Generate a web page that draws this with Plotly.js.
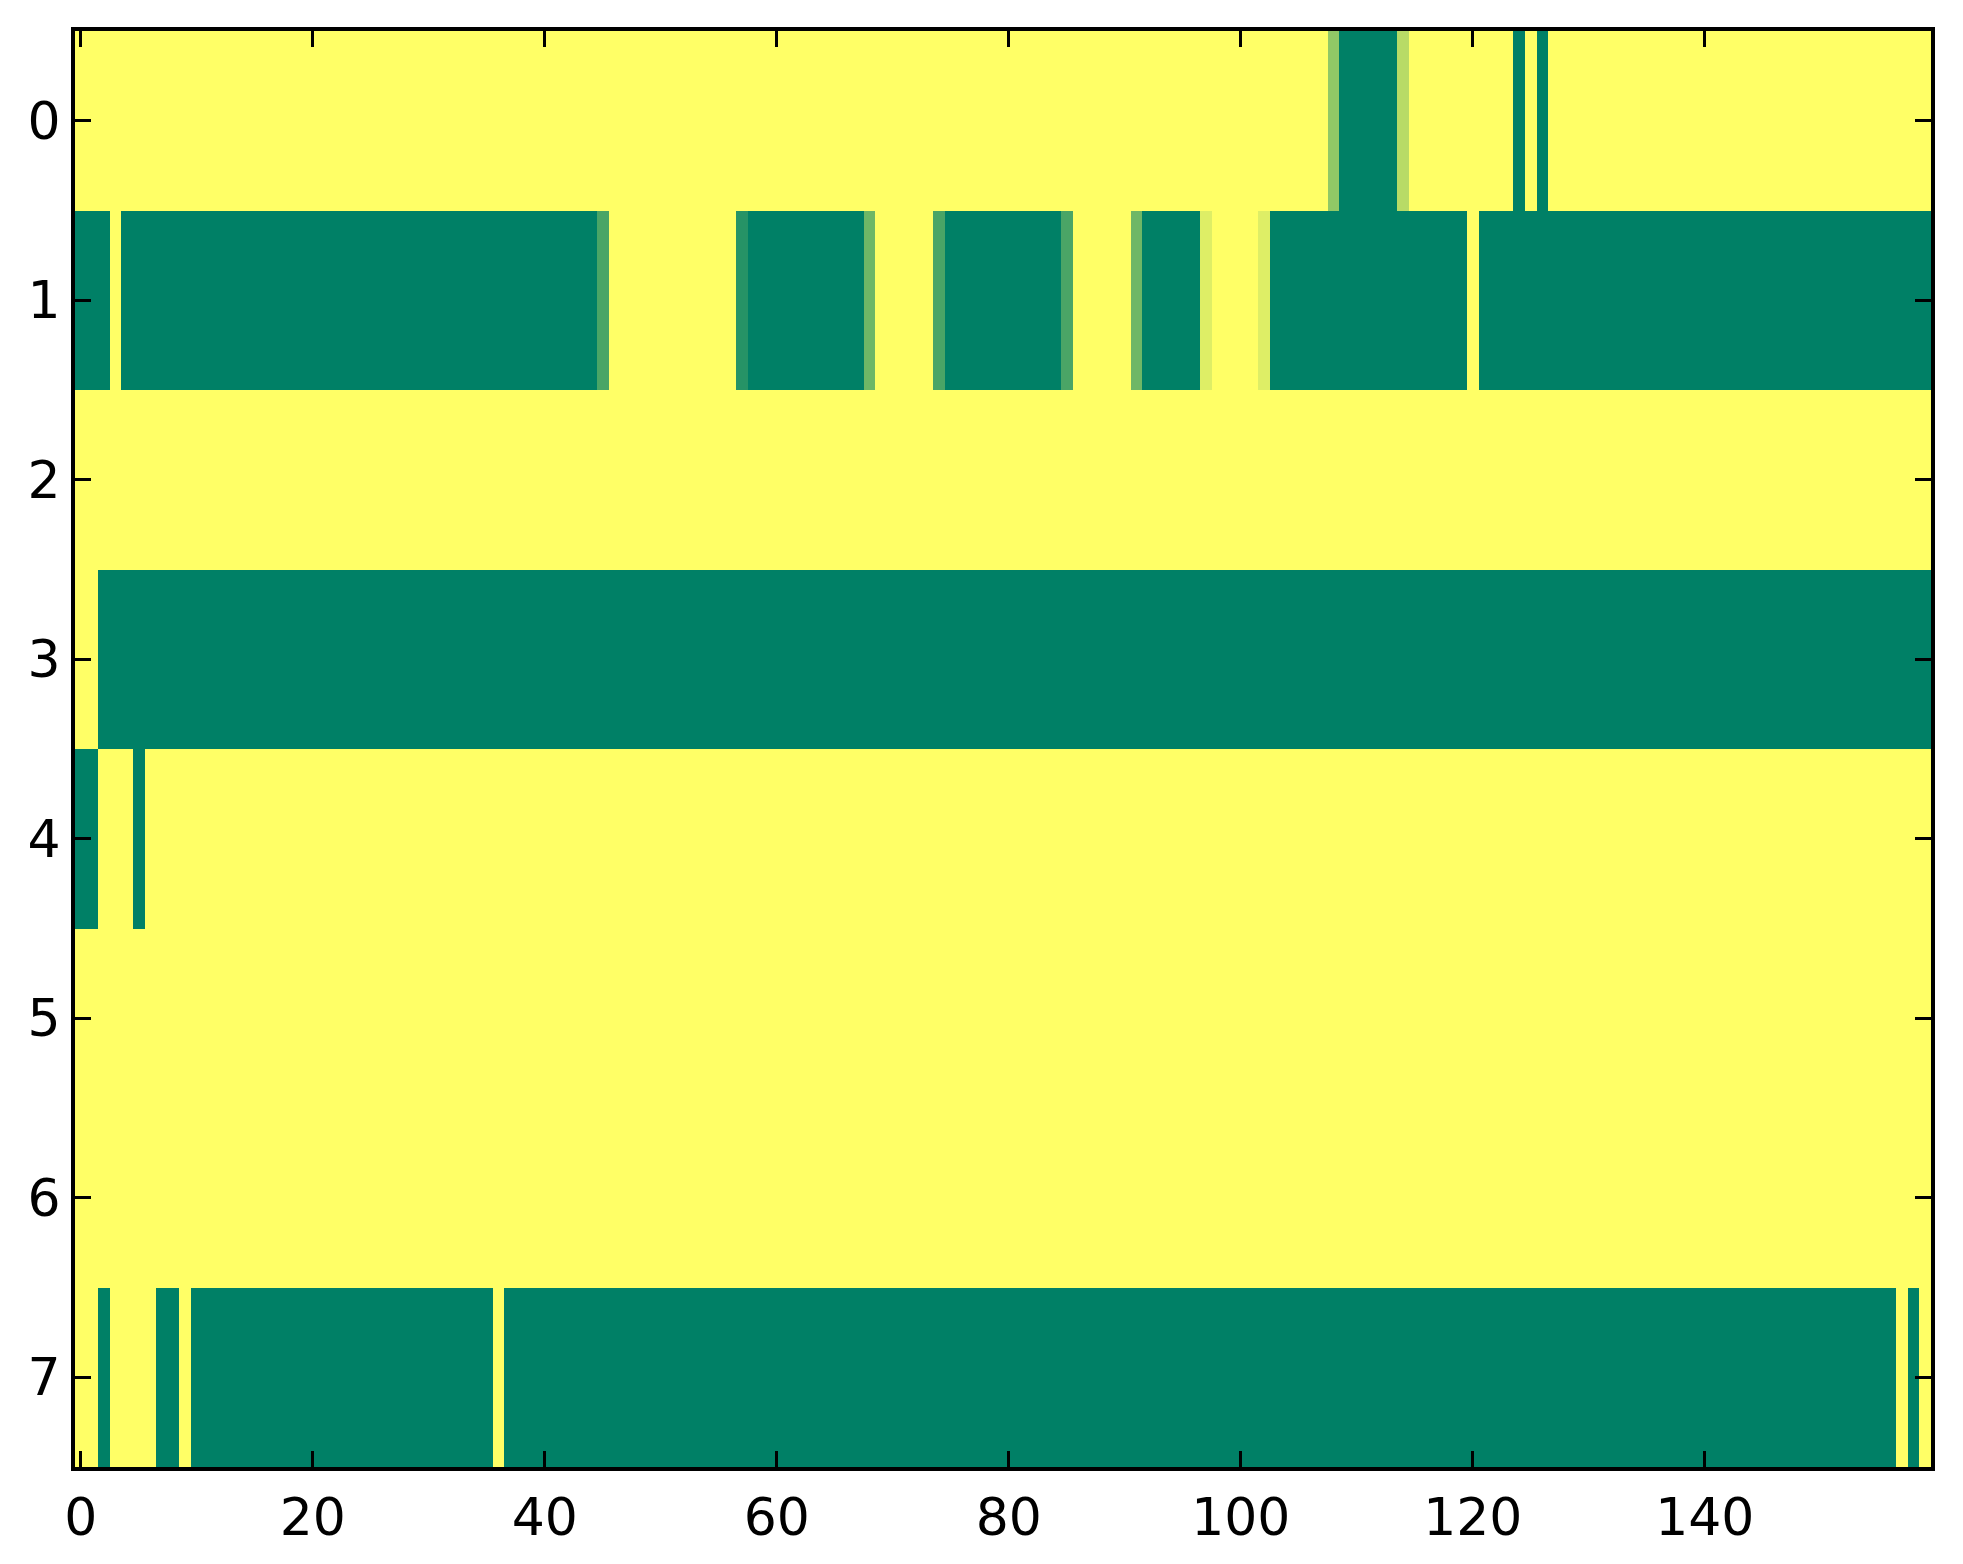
<!DOCTYPE html>
<html>
<head>
<meta charset="utf-8">
<script src="https://cdn.plot.ly/plotly-3.0.1.min.js"></script>
<style>
html,body{margin:0;padding:0;background:#fff;}
#chart{width:1963px;height:1564px;}
</style>
</head>
<body>
<div id="chart"></div>
<script>
// Row indices (y) and column indices (x)
const rowLabels = [0, 1, 2, 3, 4, 5, 6, 7];
const xTicks = [0, 20, 40, 60, 80, 100, 120, 140];
const yTicks = [0, 1, 2, 3, 4, 5, 6, 7];

// Cell values (0 = green, 1 = yellow), 160 columns per row
const row0 = [
  1,1,1,1,1,1,1,1,1,1,1,1,1,1,1,1,1,1,1,1,
  1,1,1,1,1,1,1,1,1,1,1,1,1,1,1,1,1,1,1,1,
  1,1,1,1,1,1,1,1,1,1,1,1,1,1,1,1,1,1,1,1,
  1,1,1,1,1,1,1,1,1,1,1,1,1,1,1,1,1,1,1,1,
  1,1,1,1,1,1,1,1,1,1,1,1,1,1,1,1,1,1,1,1,
  1,1,1,1,1,1,1,1,0.57,0,0,0,0,0,0.72,1,1,1,1,1,
  1,1,1,1,0,1,0,1,1,1,1,1,1,1,1,1,1,1,1,1,
  1,1,1,1,1,1,1,1,1,1,1,1,1,1,1,1,1,1,1,1
];
const row1 = [
  0,0,0,1,0,0,0,0,0,0,0,0,0,0,0,0,0,0,0,0,
  0,0,0,0,0,0,0,0,0,0,0,0,0,0,0,0,0,0,0,0,
  0,0,0,0,0,0.29,1,1,1,1,1,1,1,1,1,1,1,0.15,0,0,
  0,0,0,0,0,0,0,0,0.43,1,1,1,1,1,0.29,0,0,0,0,0,
  0,0,0,0,0,0.29,1,1,1,1,1,0.43,0,0,0,0,0,0.87,1,1,
  1,1,0.87,0,0,0,0,0,0,0,0,0,0,0,0,0,0,0,0,0,
  1,0,0,0,0,0,0,0,0,0,0,0,0,0,0,0,0,0,0,0,
  0,0,0,0,0,0,0,0,0,0,0,0,0,0,0,0,0,0,0,0
];
const row2 = [
  1,1,1,1,1,1,1,1,1,1,1,1,1,1,1,1,1,1,1,1,
  1,1,1,1,1,1,1,1,1,1,1,1,1,1,1,1,1,1,1,1,
  1,1,1,1,1,1,1,1,1,1,1,1,1,1,1,1,1,1,1,1,
  1,1,1,1,1,1,1,1,1,1,1,1,1,1,1,1,1,1,1,1,
  1,1,1,1,1,1,1,1,1,1,1,1,1,1,1,1,1,1,1,1,
  1,1,1,1,1,1,1,1,1,1,1,1,1,1,1,1,1,1,1,1,
  1,1,1,1,1,1,1,1,1,1,1,1,1,1,1,1,1,1,1,1,
  1,1,1,1,1,1,1,1,1,1,1,1,1,1,1,1,1,1,1,1
];
const row3 = [
  1,1,0,0,0,0,0,0,0,0,0,0,0,0,0,0,0,0,0,0,
  0,0,0,0,0,0,0,0,0,0,0,0,0,0,0,0,0,0,0,0,
  0,0,0,0,0,0,0,0,0,0,0,0,0,0,0,0,0,0,0,0,
  0,0,0,0,0,0,0,0,0,0,0,0,0,0,0,0,0,0,0,0,
  0,0,0,0,0,0,0,0,0,0,0,0,0,0,0,0,0,0,0,0,
  0,0,0,0,0,0,0,0,0,0,0,0,0,0,0,0,0,0,0,0,
  0,0,0,0,0,0,0,0,0,0,0,0,0,0,0,0,0,0,0,0,
  0,0,0,0,0,0,0,0,0,0,0,0,0,0,0,0,0,0,0,0
];
const row4 = [
  0,0,1,1,1,0,1,1,1,1,1,1,1,1,1,1,1,1,1,1,
  1,1,1,1,1,1,1,1,1,1,1,1,1,1,1,1,1,1,1,1,
  1,1,1,1,1,1,1,1,1,1,1,1,1,1,1,1,1,1,1,1,
  1,1,1,1,1,1,1,1,1,1,1,1,1,1,1,1,1,1,1,1,
  1,1,1,1,1,1,1,1,1,1,1,1,1,1,1,1,1,1,1,1,
  1,1,1,1,1,1,1,1,1,1,1,1,1,1,1,1,1,1,1,1,
  1,1,1,1,1,1,1,1,1,1,1,1,1,1,1,1,1,1,1,1,
  1,1,1,1,1,1,1,1,1,1,1,1,1,1,1,1,1,1,1,1
];
const row5 = [
  1,1,1,1,1,1,1,1,1,1,1,1,1,1,1,1,1,1,1,1,
  1,1,1,1,1,1,1,1,1,1,1,1,1,1,1,1,1,1,1,1,
  1,1,1,1,1,1,1,1,1,1,1,1,1,1,1,1,1,1,1,1,
  1,1,1,1,1,1,1,1,1,1,1,1,1,1,1,1,1,1,1,1,
  1,1,1,1,1,1,1,1,1,1,1,1,1,1,1,1,1,1,1,1,
  1,1,1,1,1,1,1,1,1,1,1,1,1,1,1,1,1,1,1,1,
  1,1,1,1,1,1,1,1,1,1,1,1,1,1,1,1,1,1,1,1,
  1,1,1,1,1,1,1,1,1,1,1,1,1,1,1,1,1,1,1,1
];
const row6 = [
  1,1,1,1,1,1,1,1,1,1,1,1,1,1,1,1,1,1,1,1,
  1,1,1,1,1,1,1,1,1,1,1,1,1,1,1,1,1,1,1,1,
  1,1,1,1,1,1,1,1,1,1,1,1,1,1,1,1,1,1,1,1,
  1,1,1,1,1,1,1,1,1,1,1,1,1,1,1,1,1,1,1,1,
  1,1,1,1,1,1,1,1,1,1,1,1,1,1,1,1,1,1,1,1,
  1,1,1,1,1,1,1,1,1,1,1,1,1,1,1,1,1,1,1,1,
  1,1,1,1,1,1,1,1,1,1,1,1,1,1,1,1,1,1,1,1,
  1,1,1,1,1,1,1,1,1,1,1,1,1,1,1,1,1,1,1,1
];
const row7 = [
  1,1,0,1,1,1,1,0,0,1,0,0,0,0,0,0,0,0,0,0,
  0,0,0,0,0,0,0,0,0,0,0,0,0,0,0,0,1,0,0,0,
  0,0,0,0,0,0,0,0,0,0,0,0,0,0,0,0,0,0,0,0,
  0,0,0,0,0,0,0,0,0,0,0,0,0,0,0,0,0,0,0,0,
  0,0,0,0,0,0,0,0,0,0,0,0,0,0,0,0,0,0,0,0,
  0,0,0,0,0,0,0,0,0,0,0,0,0,0,0,0,0,0,0,0,
  0,0,0,0,0,0,0,0,0,0,0,0,0,0,0,0,0,0,0,0,
  0,0,0,0,0,0,0,0,0,0,0,0,0,0,0,0,0,1,0,1
];

const zRows = [row0, row1, row2, row3, row4, row5, row6, row7];
const colIndex = row0.map((_, i) => i);

// matplotlib "summer" colormap
const summer = [[0, 'rgb(0,128,102)'], [1, 'rgb(255,255,102)']];

const trace = {
  type: 'heatmap',
  z: zRows,
  x: colIndex,
  y: rowLabels,
  colorscale: summer,
  zmin: 0,
  zmax: 1,
  showscale: false,
  xgap: 0,
  ygap: 0,
  hoverinfo: 'skip'
};

const axisFont = {family: 'DejaVu Sans, sans-serif', size: 52, color: '#000'};

const layout = {
  width: 1963,
  height: 1564,
  margin: {l: 75, r: 32, t: 31, b: 97, pad: 0},
  paper_bgcolor: '#fff',
  plot_bgcolor: '#fff',
  showlegend: false,
  xaxis: {
    range: [-0.5, 159.5],
    tickvals: xTicks,
    ticktext: xTicks.map(String),
    ticks: 'inside',
    ticklen: 16,
    tickwidth: 3,
    tickcolor: '#000',
    showline: true,
    linecolor: '#000',
    linewidth: 4,
    mirror: 'allticks',
    showgrid: false,
    zeroline: false,
    tickfont: axisFont,
    ticklabelstandoff: 2
  },
  yaxis: {
    range: [7.5, -0.5],
    tickvals: yTicks,
    ticktext: yTicks.map(String),
    ticks: 'inside',
    ticklen: 16,
    tickwidth: 3,
    tickcolor: '#000',
    showline: true,
    linecolor: '#000',
    linewidth: 4,
    mirror: 'allticks',
    showgrid: false,
    zeroline: false,
    tickfont: axisFont,
    ticklabelstandoff: 0
  }
};

Plotly.newPlot('chart', [trace], layout, {displayModeBar: false, staticPlot: true});
</script>
</body>
</html>
